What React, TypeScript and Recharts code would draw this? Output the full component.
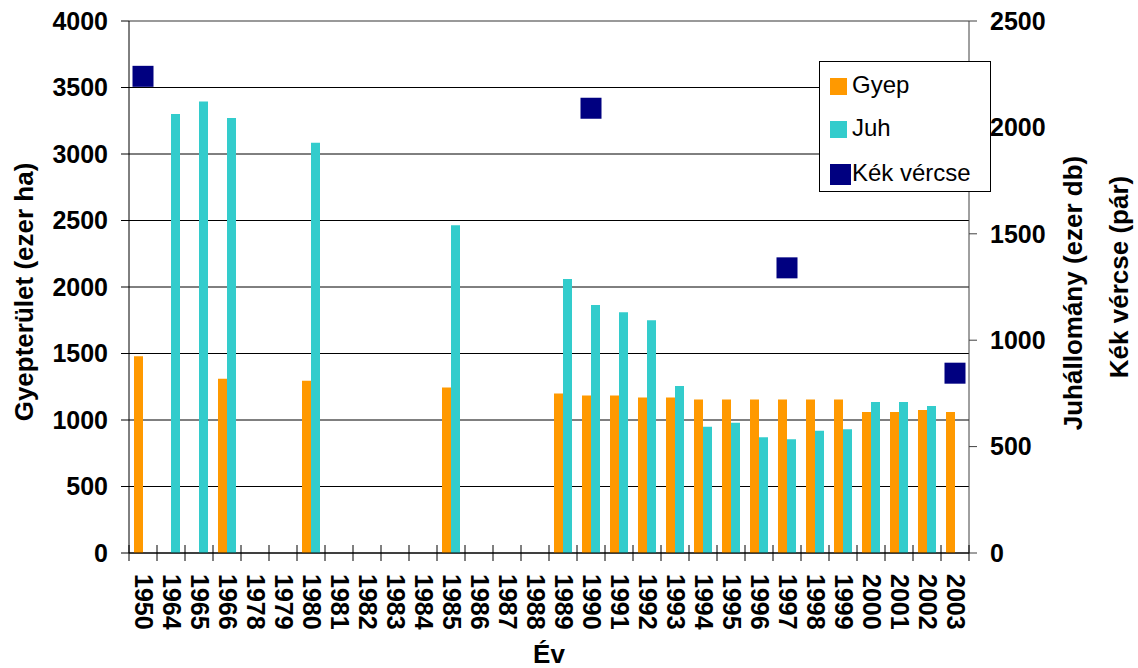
import React from 'react'
import { ComposedChart, Bar, Line, XAxis, YAxis, CartesianGrid, ReferenceLine, Label } from 'recharts'

const FONT = '"Liberation Sans", Arial, sans-serif'

const years = [
  '1950', '1964', '1965', '1966', '1978', '1979', '1980', '1981', '1982', '1983',
  '1984', '1985', '1986', '1987', '1988', '1989', '1990', '1991', '1992', '1993',
  '1994', '1995', '1996', '1997', '1998', '1999', '2000', '2001', '2002', '2003',
]

// gyepterület (ezer ha)
const gyep = [
  1480, null, null, 1310, null, null, 1295, null, null, null,
  null, 1245, null, null, null, 1200, 1185, 1185, 1170, 1170,
  1155, 1155, 1155, 1155, 1155, 1155, 1060, 1060, 1075, 1060,
]

// juhállomány (ezer db)
const juh = [
  null, 3300, 3395, 3270, null, null, 3085, null, null, null,
  null, 2465, null, null, null, 2060, 1865, 1810, 1750, 1255,
  950, 980, 870, 855, 920, 930, 1135, 1135, 1105, null,
]

// kék vércse (pár)
const vercse = [
  2240, null, null, null, null, null, null, null, null, null,
  null, null, null, null, null, null, 2090, null, null, null,
  null, null, null, 1340, null, null, null, null, null, 845,
]

const leftTicks = [0, 500, 1000, 1500, 2000, 2500, 3000, 3500, 4000]
const rightTicks = [0, 500, 1000, 1500, 2000, 2500]

const seriesNames = ['Gyep', 'Juh', 'Kék vércse']
const seriesColors = ['#FF9900', '#33CCCC', '#000080']

const data = years.map((year, i) => ({
  year,
  gyep: gyep[i],
  juh: juh[i],
  vercse: vercse[i],
}))

const tickStyle = { fontSize: 25, fontWeight: 'bold', fill: '#000', fontFamily: FONT }

const SquareDot = (props: any) => {
  const { cx, cy, value, index } = props
  if (value == null || cy == null || isNaN(cy)) return <g key={'d' + index} />
  return <rect key={'d' + index} x={cx - 10.5} y={cy - 10.5} width={21} height={21} fill={seriesColors[2]} />
}

const YearTick = (props: any) => {
  const { x, y, payload } = props
  const half = payload.offset ?? 14
  const isLast = payload.value === years[years.length - 1]
  return (
    <g>
      <line x1={x - half} x2={x - half} y1={y - 8} y2={y + 8} stroke="#000" />
      {isLast && <line x1={x + half} x2={x + half} y1={y - 8} y2={y + 8} stroke="#000" />}
      <text
        transform={`translate(${x + 1},${y + 21}) rotate(90)`}
        textAnchor="start"
        dy="0.35em"
        style={tickStyle}
      >
        {payload.value}
      </text>
    </g>
  )
}

const titleStyle = { fontSize: 26, fontWeight: 'bold', fill: '#000', fontFamily: FONT }

export default function App() {
  return (
    <div style={{ position: 'absolute', left: 0, top: 0, width: 1138, height: 668, background: '#fff', fontFamily: FONT }}>
      <ComposedChart
        width={1138}
        height={668}
        data={data}
        margin={{ top: 21, right: 0, bottom: 0, left: 0 }}
        barGap={0}
        barSize={9}
      >
        <CartesianGrid yAxisId="left" vertical={false} stroke="#000" />
        <XAxis
          dataKey="year"
          interval={0}
          height={115}
          tickSize={0}
          tickMargin={0}
          tickLine={false}
          axisLine={{ stroke: '#000' }}
          tick={<YearTick />}
        >
          <Label
            content={() => (
              <text x={549} y={663} textAnchor="middle" style={titleStyle}>Év</text>
            )}
          />
        </XAxis>
        <YAxis
          yAxisId="left"
          width={129}
          domain={[0, 4000]}
          ticks={leftTicks}
          tickSize={8}
          tickMargin={13}
          axisLine={{ stroke: '#000' }}
          tickLine={{ stroke: '#000' }}
          tick={tickStyle}
        >
          <Label
            content={() => (
              <text transform="translate(24,292) rotate(-90)" textAnchor="middle" dy="0.35em" style={titleStyle}>
                Gyepterület (ezer ha)
              </text>
            )}
          />
        </YAxis>
        <YAxis
          yAxisId="right"
          orientation="right"
          width={169}
          domain={[0, 2500]}
          ticks={rightTicks}
          tickSize={8}
          tickMargin={13}
          axisLine={{ stroke: '#404040' }}
          tickLine={{ stroke: '#404040' }}
          tick={tickStyle}
        >
          <Label
            content={() => (
              <g>
                <text transform="translate(1073,293) rotate(-90)" textAnchor="middle" dy="0.35em" style={titleStyle}>
                  Juhállomány (ezer db)
                </text>
                <text transform="translate(1119,277) rotate(-90)" textAnchor="middle" dy="0.35em" style={titleStyle}>
                  Kék vércse (pár)
                </text>
              </g>
            )}
          />
        </YAxis>
        <ReferenceLine yAxisId="left" y={4000} stroke="#999" strokeWidth={2} />
        <Bar yAxisId="left" dataKey="gyep" name={seriesNames[0]} fill={seriesColors[0]} isAnimationActive={false} />
        <Bar yAxisId="left" dataKey="juh" name={seriesNames[1]} fill={seriesColors[1]} isAnimationActive={false} />
        <Line
          yAxisId="right"
          dataKey="vercse"
          name={seriesNames[2]}
          stroke="none"
          dot={SquareDot}
          activeDot={false}
          isAnimationActive={false}
        />
      </ComposedChart>

      <div
        style={{
          position: 'absolute',
          left: 819,
          top: 61,
          width: 170,
          height: 129,
          border: '1px solid #000',
          background: '#fff',
        }}
      >
        {seriesNames.map((name, i) => {
          const big = i === 2
          const sz = big ? 21 : 17
          const cy = [24, 67, 112][i]
          return (
            <div key={name}>
              <div
                style={{
                  position: 'absolute',
                  left: 10,
                  top: cy - sz / 2,
                  width: sz,
                  height: sz,
                  background: seriesColors[i],
                }}
              />
              <div
                style={{
                  position: 'absolute',
                  left: 32,
                  top: cy - 15,
                  fontSize: 24,
                  lineHeight: '28px',
                  color: '#000',
                  whiteSpace: 'nowrap',
                }}
              >
                {name}
              </div>
            </div>
          )
        })}
      </div>
    </div>
  )
}
